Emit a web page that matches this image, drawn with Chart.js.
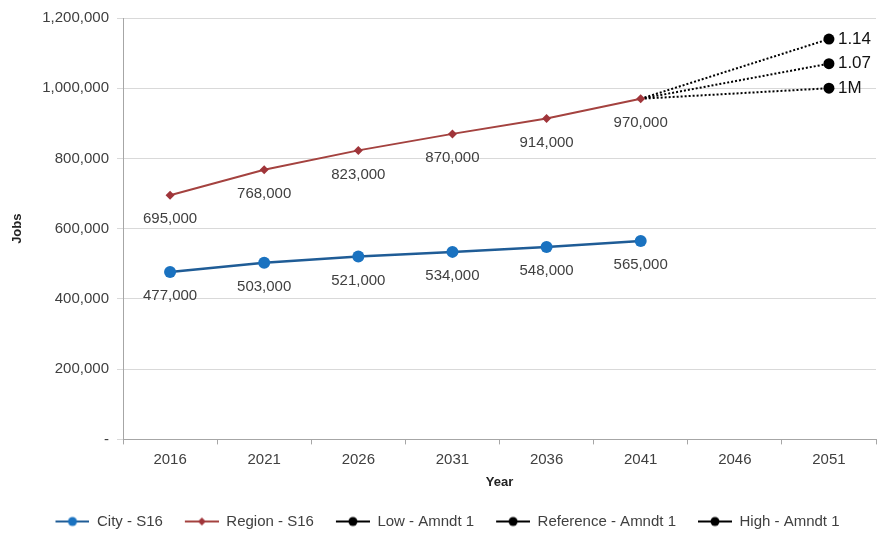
<!DOCTYPE html>
<html>
<head>
<meta charset="utf-8">
<script src="https://cdn.jsdelivr.net/npm/chart.js@4/dist/chart.umd.min.js"></script>
<style>
  html, body { margin: 0; padding: 0; background: #fff; }
  #wrap { width: 882px; height: 533px; }
</style>
</head>
<body>
<div id="wrap"><canvas id="jobs-chart"></canvas></div>
<script>
const years = ["2016", "2021", "2026", "2031", "2036", "2041", "2046", "2051"];
const cityJobs = [477000, 503000, 521000, 534000, 548000, 565000, null, null];
const regionJobs = [695000, 768000, 823000, 870000, 914000, 970000, null, null];
const lowAmndt = [null, null, null, null, null, 970000, null, 1000000];
const referenceAmndt = [null, null, null, null, null, 970000, null, 1070000];
const highAmndt = [null, null, null, null, null, 970000, null, 1140000];
const endLabels = { low: "1M", reference: "1.07", high: "1.14" };

const FONT = "'Liberation Sans', Arial, sans-serif";

// line+marker swatch for the legend (left margin acts as the gap between items)
const makeSwatch = (lineColor, pointColor, shape) => {
  const c = document.createElement("canvas");
  c.width = 46;
  c.height = 12;
  const ctx = c.getContext("2d");
  ctx.strokeStyle = lineColor;
  ctx.lineWidth = 2;
  ctx.beginPath();
  ctx.moveTo(12, 6);
  ctx.lineTo(46, 6);
  ctx.stroke();
  ctx.fillStyle = pointColor;
  ctx.beginPath();
  if (shape === "diamond") {
    ctx.moveTo(29, 2); ctx.lineTo(33, 6); ctx.lineTo(29, 10); ctx.lineTo(25, 6);
  } else {
    ctx.arc(29, 6, 4.5, 0, Math.PI * 2);
  }
  ctx.closePath();
  ctx.fill();
  return c;
};

const lastPointOnly = (arr, r) => arr.map((v, i) => (i === arr.length - 1 ? r : 0));

// value labels under the S16 series and text next to the 2051 points
const labelPlugin = {
  id: "valueLabels",
  afterDatasetsDraw(chart) {
    const ctx = chart.ctx;
    ctx.save();
    ctx.textAlign = "center";
    ctx.textBaseline = "middle";
    ctx.font = "15px " + FONT;
    ctx.fillStyle = "#404040";
    [0, 1].forEach((di) => {
      const meta = chart.getDatasetMeta(di);
      chart.data.datasets[di].data.forEach((v, i) => {
        if (v == null) return;
        const pt = meta.data[i];
        ctx.fillText(v.toLocaleString("en-US"), pt.x, pt.y + 24);
      });
    });
    ctx.textAlign = "left";
    ctx.font = "17px " + FONT;
    ctx.fillStyle = "#111";
    [2, 3, 4].forEach((di) => {
      const ds = chart.data.datasets[di];
      const meta = chart.getDatasetMeta(di);
      const pt = meta.data[ds.data.length - 1];
      ctx.fillText(ds.endLabel, pt.x + 9, pt.y);
    });
    ctx.restore();
  },
};

const swatches = [
  makeSwatch("#1f5c96", "#1a72c0", "circle"),
  makeSwatch("#a4423f", "#a0353a", "diamond"),
  makeSwatch("#000", "#000", "circle"),
  makeSwatch("#000", "#000", "circle"),
  makeSwatch("#000", "#000", "circle"),
];

new Chart(document.getElementById("jobs-chart"), {
  type: "line",
  data: {
    labels: years,
    datasets: [
      {
        label: "City - S16",
        data: cityJobs,
        borderColor: "#1f5c96",
        backgroundColor: "#1a72c0",
        borderWidth: 2.5,
        pointRadius: 6,
        pointBorderWidth: 0,
        pointBackgroundColor: "#1a72c0",
      },
      {
        label: "Region - S16",
        data: regionJobs,
        borderColor: "#a4423f",
        backgroundColor: "#a0353a",
        borderWidth: 2,
        pointStyle: "rectRot",
        pointRadius: 4.5,
        pointBorderWidth: 0,
        pointBackgroundColor: "#a0353a",
      },
      {
        label: "Low - Amndt 1",
        data: lowAmndt,
        endLabel: endLabels.low,
        borderColor: "#000",
        backgroundColor: "#000",
        borderWidth: 2,
        borderDash: [2, 2],
        spanGaps: true,
        pointRadius: lastPointOnly(lowAmndt, 5.5),
        pointBorderWidth: 0,
      },
      {
        label: "Reference - Amndt 1",
        data: referenceAmndt,
        endLabel: endLabels.reference,
        borderColor: "#000",
        backgroundColor: "#000",
        borderWidth: 2,
        borderDash: [2, 2],
        spanGaps: true,
        pointRadius: lastPointOnly(referenceAmndt, 5.5),
        pointBorderWidth: 0,
      },
      {
        label: "High - Amndt 1",
        data: highAmndt,
        endLabel: endLabels.high,
        borderColor: "#000",
        backgroundColor: "#000",
        borderWidth: 2,
        borderDash: [2, 2],
        spanGaps: true,
        pointRadius: lastPointOnly(highAmndt, 5.5),
        pointBorderWidth: 0,
      },
    ],
  },
  options: {
    responsive: true,
    maintainAspectRatio: false,
    animation: false,
    layout: { padding: { top: 18, right: 5, left: 6, bottom: -6 } },
    plugins: {
      tooltip: { enabled: false },
      legend: {
        position: "bottom",
        labels: {
          font: { family: FONT, size: 15 },
          color: "#404040",
          usePointStyle: true,
          pointStyleWidth: 46,
          padding: 10,
          generateLabels: (chart) =>
            chart.data.datasets.map((ds, i) => ({
              text: ds.label,
              pointStyle: swatches[i],
              fillStyle: "transparent",
              strokeStyle: "transparent",
              lineWidth: 0,
              datasetIndex: i,
              fontColor: "#404040",
            })),
        },
      },
    },
    scales: {
      x: {
        offset: true,
        grid: { display: true, drawOnChartArea: false, offset: true, tickLength: 5, color: "#a6a6a6" },
        border: { color: "#a6a6a6" },
        ticks: { font: { family: FONT, size: 15 }, color: "#404040", padding: 6 },
        title: { display: true, text: "Year", font: { family: FONT, size: 13, weight: "bold" }, color: "#222", padding: { top: 0, bottom: 14 } },
      },
      y: {
        min: 0,
        max: 1200000,
        afterFit: (scale) => { scale.width = 117; },
        grid: { color: "#d9d9d9", tickLength: 6, lineWidth: 1 },
        border: { color: "#a6a6a6" },
        ticks: {
          stepSize: 200000,
          font: { family: FONT, size: 15 },
          color: "#404040",
          padding: 8,
          callback: (v) => (v === 0 ? "-" : v.toLocaleString("en-US")),
        },
        title: { display: true, text: "Jobs", font: { family: FONT, size: 13, weight: "bold" }, color: "#222" },
      },
    },
  },
  plugins: [labelPlugin],
});
</script>
</body>
</html>
